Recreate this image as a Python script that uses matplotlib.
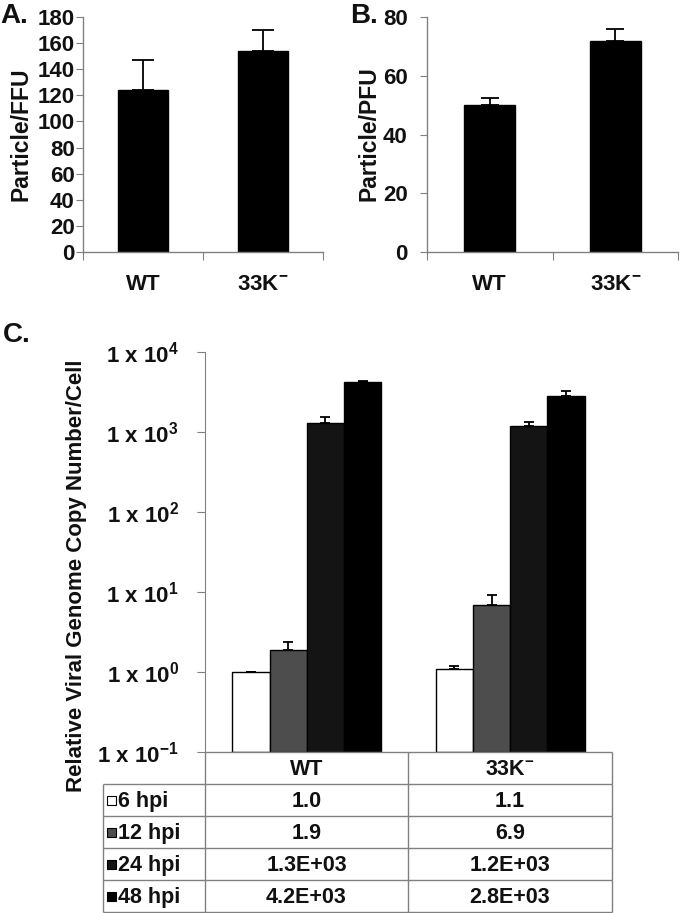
import numpy as np
import matplotlib
matplotlib.use("Agg")
import matplotlib.pyplot as plt
from matplotlib.patches import Rectangle
from matplotlib.ticker import FixedLocator, FuncFormatter, NullLocator

plt.rcParams['font.family'] = ['Liberation Sans', 'DejaVu Sans']
plt.rcParams['font.weight'] = 'bold'
plt.rcParams['mathtext.fontset'] = 'custom'
plt.rcParams['mathtext.rm'] = 'Liberation Sans:bold'
plt.rcParams['mathtext.bf'] = 'Liberation Sans:bold'
plt.rcParams['mathtext.it'] = 'Liberation Sans:bold'
plt.rcParams['mathtext.default'] = 'bf'

# ---------------- data ----------------
strains = ["WT", "33K$^{-}$"]

ffu_values = [124, 154]
ffu_err = [23, 16]

pfu_values = [50, 72]
pfu_err = [2.5, 4]

timepoints = ["6 hpi", "12 hpi", "24 hpi", "48 hpi"]
genome_wt = [1.0, 1.9, 1.3e3, 4.2e3]
genome_33k = [1.1, 6.9, 1.2e3, 2.8e3]
genome_err_wt = [0.0, 0.47, 250, 150]
genome_err_33k = [0.09, 2.2, 130, 460]
bar_colors = ["#ffffff", "#4d4d4d", "#141414", "#000000"]

A_ticks = [0, 20, 40, 60, 80, 100, 120, 140, 160, 180]
B_ticks = [0, 20, 40, 60, 80]
C_exponents = [-1, 0, 1, 2, 3, 4]

W, H = 680, 913
fig = plt.figure(figsize=(W / 100, H / 100), dpi=100)

def px_axes(l, t, r, b):
    return fig.add_axes([l / W, 1 - b / H, (r - l) / W, (b - t) / H])

GRAY = "#808080"
TXT = "#111111"
TICKFS = 16

def style_simple(ax, ymax, ticks, err, vals, capsize, ypad):
    x = np.arange(len(vals))
    ax.bar(x, vals, width=0.41, color="black", edgecolor="black", zorder=2)
    ax.errorbar(x, vals, yerr=[np.zeros(len(vals)), err], fmt='none', ecolor='black',
                elinewidth=1.3, capsize=capsize, capthick=1.3, zorder=3)
    ax.set_xlim(-0.5, 1.5)
    ax.set_ylim(0, ymax)
    ax.set_yticks(ticks)
    ax.set_yticklabels([str(t) for t in ticks], fontsize=TICKFS, fontweight='bold', color=TXT)
    ax.tick_params(axis='y', length=5, color=GRAY, pad=ypad)
    ax.xaxis.set_major_locator(FixedLocator([-0.5, 0.5, 1.5]))
    ax.xaxis.set_major_formatter(FuncFormatter(lambda v, p: ""))
    ax.tick_params(axis='x', which='major', length=6, color=GRAY)
    ax.xaxis.set_minor_locator(FixedLocator(x))
    ax.xaxis.set_minor_formatter(FuncFormatter(lambda v, p: strains[int(round(v))]))
    ax.tick_params(axis='x', which='minor', length=0, pad=16, labelsize=TICKFS, labelcolor=TXT)
    for lab in ax.xaxis.get_minorticklabels():
        lab.set_fontweight('bold')
    for s in ['top', 'right']:
        ax.spines[s].set_visible(False)
    for s in ['left', 'bottom']:
        ax.spines[s].set_color(GRAY)
        ax.spines[s].set_linewidth(1.0)

# ---------------- panel A ----------------
axA = px_axes(83, 17, 323, 252)
style_simple(axA, 180, A_ticks, ffu_err, ffu_values, 8, 1)
fig.text(21 / W, 1 - 134 / H, "Particle/FFU", rotation=90, ha='center', va='center',
         fontsize=16.5, fontweight='bold', color=TXT)
fig.text(0 / W, 1 - 3 / H, "A.", fontsize=20, fontweight='bold', va='top', ha='left', color=TXT)

# ---------------- panel B ----------------
axB = px_axes(427, 17, 678, 252)
style_simple(axB, 80, B_ticks, pfu_err, pfu_values, 6.5, 9)
fig.text(369 / W, 1 - 134 / H, "Particle/PFU", rotation=90, ha='center', va='center',
         fontsize=16.5, fontweight='bold', color=TXT)
fig.text(350 / W, 1 - 3 / H, "B.", fontsize=20, fontweight='bold', va='top', ha='left', color=TXT)

# ---------------- panel C ----------------
axC = px_axes(205, 352, 612, 752)
axC.set_yscale('log')
ymin, ymax = 10.0 ** C_exponents[0], 10.0 ** C_exponents[-1]
axC.set_ylim(ymin, ymax)
axC.set_xlim(-0.5, 1.5)
bw = 0.183
offsets = (np.arange(len(timepoints)) - 1.5) * bw
for i, tp in enumerate(timepoints):
    vals = np.array([genome_wt[i], genome_33k[i]])
    errs = np.array([genome_err_wt[i], genome_err_33k[i]])
    xs = np.arange(len(strains)) + offsets[i]
    axC.bar(xs, vals - ymin, bottom=ymin, width=bw, color=bar_colors[i],
            edgecolor="black", linewidth=1.0, zorder=2)
    axC.errorbar(xs, vals, yerr=[np.zeros(2), errs], fmt='none', ecolor='black',
                 elinewidth=1.3, capsize=3.5, capthick=1.3, zorder=3)
axC.yaxis.set_major_locator(FixedLocator([10.0 ** e for e in C_exponents]))
axC.yaxis.set_minor_locator(NullLocator())
axC.yaxis.set_major_formatter(FuncFormatter(
    lambda v, p: "1 x 10$^{%d}$" % int(round(np.log10(v)))))
axC.tick_params(axis='y', length=6, color=GRAY, pad=13, labelsize=TICKFS, labelcolor=TXT)
axC.set_xticks([])
for s in ['top', 'right', 'bottom']:
    axC.spines[s].set_visible(False)
axC.spines['left'].set_color(GRAY)
fig.text(77 / W, 1 - 576 / H, "Relative Viral Genome Copy Number/Cell", rotation=90,
         ha='center', va='center', fontsize=16, fontweight='bold', color=TXT)
fig.text(3 / W, 1 - 322 / H, "C.", fontsize=20, fontweight='bold', va='top', ha='left', color=TXT)

# ---------------- table ----------------
tax = px_axes(103, 752, 612, 913)
tax.set_xlim(0, 509)
tax.set_ylim(161, 0)
tax.axis('off')
col_edges = [0, 102, 305, 509]
row_edges = [0, 32, 64, 96, 128, 160]
lk = dict(color=GRAY, lw=1.0, clip_on=False, solid_capstyle='butt')
tax.plot([col_edges[1], col_edges[3]], [0, 0], **lk)
for r in row_edges[1:]:
    tax.plot([0, col_edges[3]], [r, r], **lk)
tax.plot([0, 0], [row_edges[1], row_edges[-1]], **lk)
for c in col_edges[1:]:
    tax.plot([c, c], [0, row_edges[-1]], **lk)

TABFS = 15.5
col_centers = [(col_edges[j + 1] + col_edges[j + 2]) / 2 for j in range(len(strains))]
for j, s in enumerate(strains):
    tax.text(col_centers[j], 17, s, ha='center', va='center', fontsize=TABFS,
             fontweight='bold', color=TXT)

def fmt(v):
    return f"{v:.1f}" if v < 100 else f"{v:.1E}"

for i, tp in enumerate(timepoints):
    yc = (row_edges[i + 1] + row_edges[i + 2]) / 2
    tax.add_patch(Rectangle((4, yc - 4.5), 9, 9, facecolor=bar_colors[i],
                            edgecolor='black', lw=0.8, clip_on=False))
    tax.text(15, yc + 1, tp, ha='left', va='center', fontsize=TABFS, fontweight='bold', color=TXT)
    for j, vals in enumerate([genome_wt, genome_33k]):
        tax.text(col_centers[j], yc + 1, fmt(vals[i]), ha='center', va='center',
                 fontsize=TABFS, fontweight='bold', color=TXT)

fig.savefig("out.png", dpi=100)
